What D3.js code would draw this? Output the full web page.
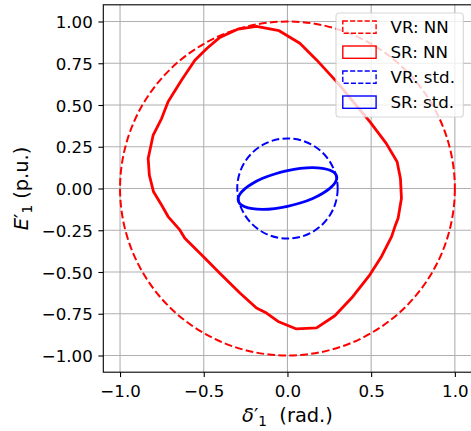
<!DOCTYPE html>
<html><head><meta charset="utf-8">
<script src="https://cdn.jsdelivr.net/npm/d3@7"></script>
<style>html,body{margin:0;padding:0;background:#fff;overflow:hidden}</style>
</head><body>
<svg id="chart" width="471" height="431"></svg>
<script>
// ---------- data ----------
const xTicks = [-1.0, -0.5, 0.0, 0.5, 1.0];
const yTicks = [-1.0, -0.75, -0.5, -0.25, 0.0, 0.25, 0.5, 0.75, 1.0];
const vrNNRadius = [1.0];
const vrStdRadius = [0.3];
const srNN = [
  [-0.185, 0.971], [-0.294, 0.955], [-0.404, 0.905], [-0.480, 0.840], [-0.553, 0.768],
  [-0.633, 0.648], [-0.713, 0.519], [-0.752, 0.419], [-0.802, 0.320], [-0.832, 0.180],
  [-0.825, 0.080], [-0.800, -0.020], [-0.752, -0.099], [-0.713, -0.168], [-0.643, -0.248],
  [-0.613, -0.298], [-0.503, -0.407], [-0.404, -0.507], [-0.284, -0.626], [-0.185, -0.716],
  [-0.125, -0.746], [-0.056, -0.796], [0.054, -0.841], [0.174, -0.835], [0.283, -0.762],
  [0.383, -0.656], [0.492, -0.517], [0.562, -0.407], [0.622, -0.288], [0.642, -0.228],
  [0.661, -0.178], [0.681, -0.059], [0.675, 0.060], [0.655, 0.160], [0.590, 0.270],
  [0.492, 0.400], [0.293, 0.640], [0.174, 0.770], [0.074, 0.870], [-0.050, 0.945]
];
const srStd = [
  [0.295, 0.064], [0.285, 0.090], [0.255, 0.109], [0.209, 0.121], [0.148, 0.125],
  [0.076, 0.120], [0.000, 0.107], [-0.076, 0.087], [-0.148, 0.061], [-0.209, 0.030],
  [-0.255, -0.002], [-0.285, -0.035], [-0.295, -0.064], [-0.285, -0.090], [-0.255, -0.109],
  [-0.209, -0.121], [-0.148, -0.125], [-0.076, -0.120], [0.000, -0.107], [0.076, -0.087],
  [0.148, -0.061], [0.209, -0.030], [0.255, 0.002], [0.285, 0.035]
];
const legendLabels = ["VR: NN", "SR: NN", "VR: std.", "SR: std."];
const legendColors = ["red", "red", "blue", "blue"];
const legendDashed = [true, false, true, false];

// ---------- layout ----------
const svg = d3.select("#chart");
const L = 103.3, R = 471.6, T = 4.8, B = 372.2;
const x = d3.scaleLinear().domain([-1.1, 1.1]).range([L, R]);
const y = d3.scaleLinear().domain([-1.1, 1.1]).range([B, T]);
const font = "'DejaVu Sans', sans-serif";

svg.append("defs").append("clipPath").attr("id", "clip")
  .append("rect").attr("x", L).attr("y", T).attr("width", R - L).attr("height", B - T);

// grid
const grid = svg.append("g");
grid.selectAll(".gx").data(xTicks).join("line")
  .attr("x1", d => x(d)).attr("x2", d => x(d)).attr("y1", T).attr("y2", B)
  .attr("stroke", "#b0b0b0").attr("stroke-width", 1.1);
grid.selectAll(".gy").data(yTicks).join("line")
  .attr("y1", d => y(d)).attr("y2", d => y(d)).attr("x1", L).attr("x2", R)
  .attr("stroke", "#b0b0b0").attr("stroke-width", 1.1);

// data
const plot = svg.append("g").attr("clip-path", "url(#clip)");
const line = d3.line().x(d => x(d[0])).y(d => y(d[1]));

plot.selectAll(".vrnn").data(vrNNRadius).join("ellipse")
  .attr("cx", x(0)).attr("cy", y(0))
  .attr("rx", d => x(d) - x(0)).attr("ry", d => y(0) - y(d))
  .attr("fill", "none").attr("stroke", "red").attr("stroke-width", 2)
  .attr("stroke-dasharray", "7.7 3.3");

plot.append("path").datum(srNN)
  .attr("d", line.curve(d3.curveLinearClosed))
  .attr("fill", "none").attr("stroke", "red").attr("stroke-width", 2.8)
  .attr("stroke-linejoin", "round");

plot.selectAll(".vrstd").data(vrStdRadius).join("ellipse")
  .attr("cx", x(0)).attr("cy", y(0))
  .attr("rx", d => x(d) - x(0)).attr("ry", d => y(0) - y(d))
  .attr("fill", "none").attr("stroke", "blue").attr("stroke-width", 2)
  .attr("stroke-dasharray", "7.7 3.3");

plot.append("path").datum(srStd)
  .attr("d", d3.line().x(d => x(d[0])).y(d => y(d[1])).curve(d3.curveCatmullRomClosed))
  .attr("fill", "none").attr("stroke", "blue").attr("stroke-width", 2.8);

// axes
const xAxis = svg.append("g").attr("transform", `translate(0,${B})`)
  .call(d3.axisBottom(x).tickValues(xTicks).tickFormat(d3.format(".1f")).tickSize(4.9));
const yAxis = svg.append("g").attr("transform", `translate(${L},0)`)
  .call(d3.axisLeft(y).tickValues(yTicks).tickFormat(d3.format(".2f")).tickSize(4.9));
[xAxis, yAxis].forEach(a => {
  a.select(".domain").remove();
  a.selectAll("line").attr("stroke", "#000").attr("stroke-width", 1.1);
  a.selectAll("text").attr("fill", "#000").style("font-family", font).style("font-size", "16.67px");
});
xAxis.selectAll("text").attr("y", 25.3).attr("dy", null);
yAxis.selectAll("text").attr("x", -10.5).attr("dy", null).attr("y", 6);

// spines
svg.append("rect").attr("x", L).attr("y", T).attr("width", R - L).attr("height", B - T)
  .attr("fill", "none").attr("stroke", "#000").attr("stroke-width", 1.1);

// axis labels
const xl = svg.append("text").attr("x", x(0)).attr("y", 422).attr("text-anchor", "middle")
  .style("font-family", font).style("font-size", "19.4px").style("white-space", "pre");
xl.append("tspan").style("font-style", "italic").text("δ");
xl.append("tspan").text("′");
xl.append("tspan").attr("dy", 4).style("font-size", "13.6px").text("1");
xl.append("tspan").attr("dy", -4).text("  (rad.)");

const yl = svg.append("text").attr("transform", `translate(28,${y(0)}) rotate(-90)`)
  .attr("text-anchor", "middle").style("font-family", font).style("font-size", "19.4px")
  .style("white-space", "pre");
yl.append("tspan").style("font-style", "italic").text("E");
yl.append("tspan").text("′");
yl.append("tspan").attr("dy", 4).style("font-size", "13.6px").text("1");
yl.append("tspan").attr("dy", -4).text(" (p.u.)");

// legend
const lg = svg.append("g");
lg.append("rect").attr("x", 336).attr("y", 13).attr("width", 127.3).attr("height", 104)
  .attr("rx", 3.3).attr("fill", "#fff").attr("fill-opacity", 0.8)
  .attr("stroke", "#cccccc").attr("stroke-opacity", 0.8).attr("stroke-width", 1.1);
const rows = lg.selectAll(".row").data(legendLabels).join("g")
  .attr("transform", (d, i) => `translate(0,${33.3 + 25 * i})`);
rows.append("rect").attr("x", 342.8).attr("y", -12.3).attr("width", 33.3).attr("height", 12.3)
  .attr("fill", "none").attr("stroke", (d, i) => legendColors[i]).attr("stroke-width", 1.4)
  .attr("stroke-dasharray", (d, i) => legendDashed[i] ? "5.1 2.2" : null);
rows.append("text").attr("x", 390.5).attr("y", 0).text(d => d)
  .style("font-family", font).style("font-size", "16.67px").attr("fill", "#000");
</script>
</body></html>
